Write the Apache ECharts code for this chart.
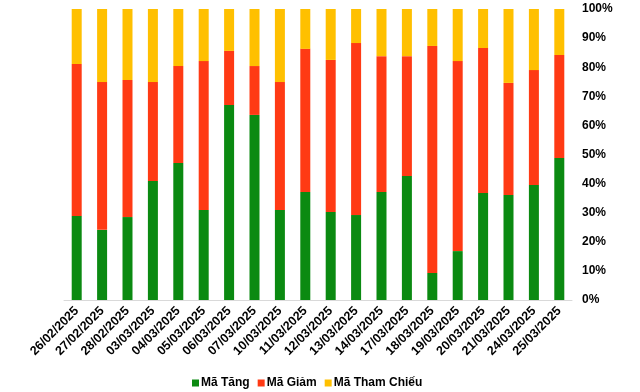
<!DOCTYPE html>
<html>
<head>
<meta charset="utf-8">
<script src="https://cdn.jsdelivr.net/npm/echarts@6/dist/echarts.min.js"></script>
<style>html,body{margin:0;padding:0;background:#fff}#c{width:640px;height:392px}</style>
</head>
<body>
<div id="c"></div>
<script>
var categories = ['26/02/2025','27/02/2025','28/02/2025','03/03/2025','04/03/2025','05/03/2025','06/03/2025','07/03/2025','10/03/2025','11/03/2025','12/03/2025','13/03/2025','14/03/2025','17/03/2025','18/03/2025','19/03/2025','20/03/2025','21/03/2025','24/03/2025','25/03/2025'];
var maTang = [28.9,24.1,28.5,40.9,47.1,30.9,67.0,63.6,30.9,37.1,30.2,29.2,37.1,42.6,9.3,16.8,36.8,36.1,39.5,48.8];
var maGiam = [52.2,50.8,47.1,34.0,33.3,51.2,18.6,16.8,44.0,49.2,52.3,59.1,46.7,41.2,78.0,65.3,49.8,38.5,39.5,35.4];
var maThamChieu = [18.9,25.1,24.4,25.1,19.6,17.9,14.4,19.6,25.1,13.7,17.5,11.7,16.2,16.2,12.7,17.9,13.4,25.4,21.0,15.8];

var chart = echarts.init(document.getElementById('c'), null, {renderer:'canvas'});
var font = 'Liberation Sans, Arial, sans-serif';
function ser(name, data, color){
  return {name:name, type:'bar', stack:'s', data:data, barWidth:10,
    itemStyle:{color:color}, emphasis:{disabled:true}};
}
chart.setOption({
  animation:false,
  grid:{left:64, right:68, top:9, bottom:92, containLabel:false},
  legend:{top:375, left:187, itemWidth:7, itemHeight:7, itemGap:8, icon:'rect', padding:[2,5],
    textStyle:{fontFamily:font, fontSize:12, fontWeight:'bold', color:'#000', padding:[0,0,0,-3]},
    data:['Mã Tăng','Mã Giảm','Mã Tham Chiếu']},
  xAxis:{type:'category', data:categories,
    axisLine:{lineStyle:{color:'#d9d9d9', width:1}}, axisTick:{show:false},
    axisLabel:{rotate:45, interval:0, fontFamily:font, fontSize:12.5, fontWeight:'bold', color:'#000', margin:9}},
  yAxis:{type:'value', position:'right', min:0, max:100, interval:10,
    axisLine:{show:false}, axisTick:{show:false}, splitLine:{show:false},
    axisLabel:{formatter:'{value}%', fontFamily:font, fontSize:12, fontWeight:'bold', color:'#000', margin:10}},
  series:[ser('Mã Tăng', maTang, '#0B8A11'), ser('Mã Giảm', maGiam, '#FF3A14'), ser('Mã Tham Chiếu', maThamChieu, '#FFC000')]
});
</script>
</body>
</html>
